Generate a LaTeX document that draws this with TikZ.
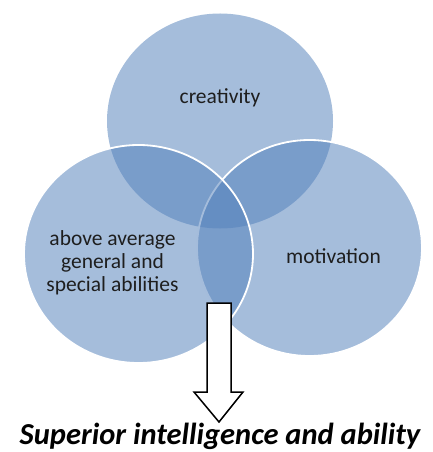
\documentclass[tikz,border=0pt]{standalone}
\usepackage{fontspec}
\setmainfont{Carlito}
\usetikzlibrary{shapes.geometric}
\definecolor{vennblue}{RGB}{82,128,186}
\definecolor{venntext}{RGB}{30,30,30}

\begin{document}
\begin{tikzpicture}[x=1bp,y=-1bp,
  venn/.style={ellipse,inner sep=0pt,fill=vennblue,fill opacity=0.52},
  vennline/.style={draw=white,line width=1.8bp},
  vennlabel/.style={text=venntext,font=\fontsize{21.5bp}{23bp}\selectfont,align=center},
  blockarrow/.style={draw=black,fill=white,line width=1.5bp,line join=miter}]
\useasboundingbox (0,0) rectangle (432,452);

\path (220,121) node[venn,minimum width=226bp,minimum height=215bp](Creativity){}
 (309.5,248) node[venn,vennline,minimum width=225bp,minimum height=216bp](Motivation){}
 (138.5,254) node[venn,vennline,minimum width=229bp,minimum height=218bp](Abilities){};

\path ([shift={(0,-23)}]Creativity.center) node[vennlabel](creativitytext){creativity}
 ([shift={(24,8)}]Motivation.center) node[vennlabel](motivationtext){motivation}
 ([shift={(-26,9)}]Abilities.center) node[vennlabel](abilitiestext){above average\\general and\\special abilities};

\path (220,444.5) node[anchor=base,inner sep=0pt,font=\fontsize{30.5bp}{33bp}\selectfont\bfseries\itshape](Result){Superior intelligence and ability};

\coordinate (arrowtop) at (219,303);
\coordinate (arrowtip) at (219,422);
\draw[blockarrow] (arrowtop) ++(-12,0) -- ++(24,0) -- ++(0,89) -- ++(12,0) -- (arrowtip) -- ++(-25,-30) -- ++(13,0) -- cycle;
\end{tikzpicture}
\end{document}
